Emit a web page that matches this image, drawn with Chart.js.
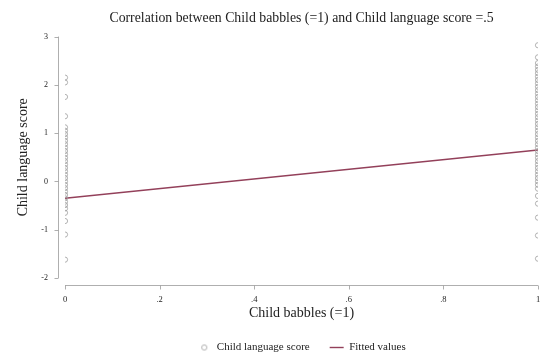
<!DOCTYPE html>
<html>
<head>
<meta charset="utf-8">
<script src="https://cdn.jsdelivr.net/npm/chart.js@4.4.1/dist/chart.umd.min.js"></script>
<style>
  html, body { margin: 0; padding: 0; background: #fff; }
  #wrap { width: 540px; height: 356px; }
</style>
</head>
<body>
<div id="wrap"><canvas id="corrChart"></canvas></div>
<script>
// Child language score by group (babbles = 0 / babbles = 1)
const scoresBabbles0 = [2.15, 2.05, 1.75, 1.35, 1.12, 1.05, 0.98, 0.91, 0.84, 0.77, 0.70, 0.63,
    0.56, 0.49, 0.42, 0.35, 0.28, 0.21, 0.14, 0.07, 0.00, -0.07, -0.14, -0.21, -0.28, -0.35,
    -0.42, -0.49, -0.56, -0.65, -0.82, -1.10, -1.62];
const scoresBabbles1 = [2.82, 2.57, 2.45, 2.38, 2.31, 2.24, 2.17, 2.10, 2.03, 1.96, 1.89, 1.82,
    1.75, 1.68, 1.61, 1.54, 1.47, 1.40, 1.33, 1.26, 1.19, 1.12, 1.05, 0.98, 0.91, 0.84, 0.77,
    0.70, 0.63, 0.56, 0.49, 0.42, 0.35, 0.28, 0.21, 0.14, 0.07, 0.00, -0.07, -0.15, -0.30,
    -0.46, -0.75, -1.12, -1.60];
const fitX = [0, 1];
const fitY = [-0.35, 0.65];
const xTicks = [0, 0.2, 0.4, 0.6, 0.8, 1];
const xTickLabels = ['0', '.2', '.4', '.6', '.8', '1'];
const yTicks = [-2, -1, 0, 1, 2, 3];

const serif = "'Liberation Serif', 'DejaVu Serif', serif";
const axisColor = '#9a9a9a';
const textColor = '#222';
const fitColor = '#93405a';

const scatterPoints = [
    ...scoresBabbles0.map(v => ({ x: 0, y: v })),
    ...scoresBabbles1.map(v => ({ x: 1, y: v }))
];

// hollow circle used as the legend symbol for the scatter series
const circleIcon = document.createElement('canvas');
circleIcon.width = 8; circleIcon.height = 8;
(() => {
    const c = circleIcon.getContext('2d');
    c.strokeStyle = '#a0a0a0'; c.lineWidth = 0.8;
    c.beginPath(); c.arc(4, 4, 2.6, 0, Math.PI * 2); c.stroke();
})();

// Stata-style axes: lines drawn a few pixels away from the plot region
const offsetAxes = {
    id: 'offsetAxes',
    afterDraw(chart) {
        const { ctx, scales: { x, y } } = chart;
        const gap = 7;
        ctx.save();
        ctx.strokeStyle = axisColor;
        ctx.lineWidth = 0.8;
        ctx.beginPath();
        const ax = Math.round(x.left - gap) + 0.5;
        ctx.moveTo(ax, y.getPixelForValue(3));
        ctx.lineTo(ax, y.getPixelForValue(-2));
        yTicks.forEach(v => {
            const p = Math.round(y.getPixelForValue(v)) + 0.5;
            ctx.moveTo(ax, p); ctx.lineTo(ax - 4, p);
        });
        const ay = Math.round(y.bottom + gap) + 0.5;
        ctx.moveTo(x.getPixelForValue(0), ay);
        ctx.lineTo(x.getPixelForValue(1), ay);
        xTicks.forEach(v => {
            const p = Math.round(x.getPixelForValue(v)) + 0.5;
            ctx.moveTo(p, ay); ctx.lineTo(p, ay + 4);
        });
        ctx.stroke();
        ctx.restore();
    }
};

new Chart(document.getElementById('corrChart'), {
    type: 'scatter',
    data: {
        datasets: [
            {
                label: 'Child language score',
                data: scatterPoints,
                pointStyle: 'circle',
                pointRadius: 2.6,
                borderWidth: 0.8,
                borderColor: '#a0a0a0',
                backgroundColor: 'rgba(0,0,0,0)'
            },
            {
                type: 'line',
                label: 'Fitted values',
                data: fitX.map((x, i) => ({ x, y: fitY[i] })),
                borderColor: fitColor,
                borderWidth: 1.4,
                pointRadius: 0,
                pointStyle: 'line',
                fill: false
            }
        ]
    },
    options: {
        responsive: true,
        maintainAspectRatio: false,
        animation: false,
        layout: { autoPadding: false, padding: { left: 0, right: 2, top: 0, bottom: -7 } },
        plugins: {
            title: {
                display: true,
                fullSize: false,
                text: 'Correlation between Child babbles (=1) and Child language score =.5',
                color: textColor,
                font: { family: serif, size: 13.8, weight: 'normal' },
                padding: { top: 10, bottom: 10 }
            },
            legend: {
                position: 'bottom',
                fullSize: false,
                labels: {
                    color: textColor,
                    font: { family: serif, size: 11 },
                    usePointStyle: true,
                    pointStyleWidth: 14,
                    boxHeight: 8,
                    padding: 20,
                    generateLabels: chart => chart.data.datasets.map((ds, i) => ({
                        text: ds.label,
                        datasetIndex: i,
                        pointStyle: i === 0 ? circleIcon : 'line',
                        strokeStyle: ds.borderColor,
                        fillStyle: 'rgba(0,0,0,0)',
                        lineWidth: ds.borderWidth,
                        fontColor: textColor
                    }))
                }
            },
            tooltip: { enabled: false }
        },
        scales: {
            x: {
                type: 'linear',
                min: 0, max: 1,
                grid: { display: false, drawTicks: false },
                border: { display: false },
                afterBuildTicks: s => { s.ticks = xTicks.map(v => ({ value: v })); },
                afterFit: s => { s.height = 44; s.paddingLeft = 0; s.paddingRight = 0; },
                ticks: {
                    padding: 17,
                    color: textColor,
                    font: { family: serif, size: 8.5 },
                    maxRotation: 0,
                    callback: (v) => xTickLabels[xTicks.indexOf(v)]
                },
                title: {
                    display: true,
                    text: 'Child babbles (=1)',
                    color: textColor,
                    font: { family: serif, size: 14 },
                    padding: { top: 0, bottom: 0 }
                }
            },
            y: {
                min: -2, max: 3,
                grid: { display: false, drawTicks: false },
                border: { display: false },
                afterBuildTicks: s => { s.ticks = yTicks.map(v => ({ value: v })); },
                afterFit: s => { s.width = 65; s.paddingTop = 0; s.paddingBottom = 0; },
                ticks: {
                    padding: 17,
                    color: textColor,
                    font: { family: serif, size: 8 }
                },
                title: {
                    display: true,
                    text: 'Child language score',
                    color: textColor,
                    font: { family: serif, size: 14 },
                    padding: { top: 15, bottom: 0 }
                }
            }
        }
    },
    plugins: [offsetAxes]
});
</script>
</body>
</html>
